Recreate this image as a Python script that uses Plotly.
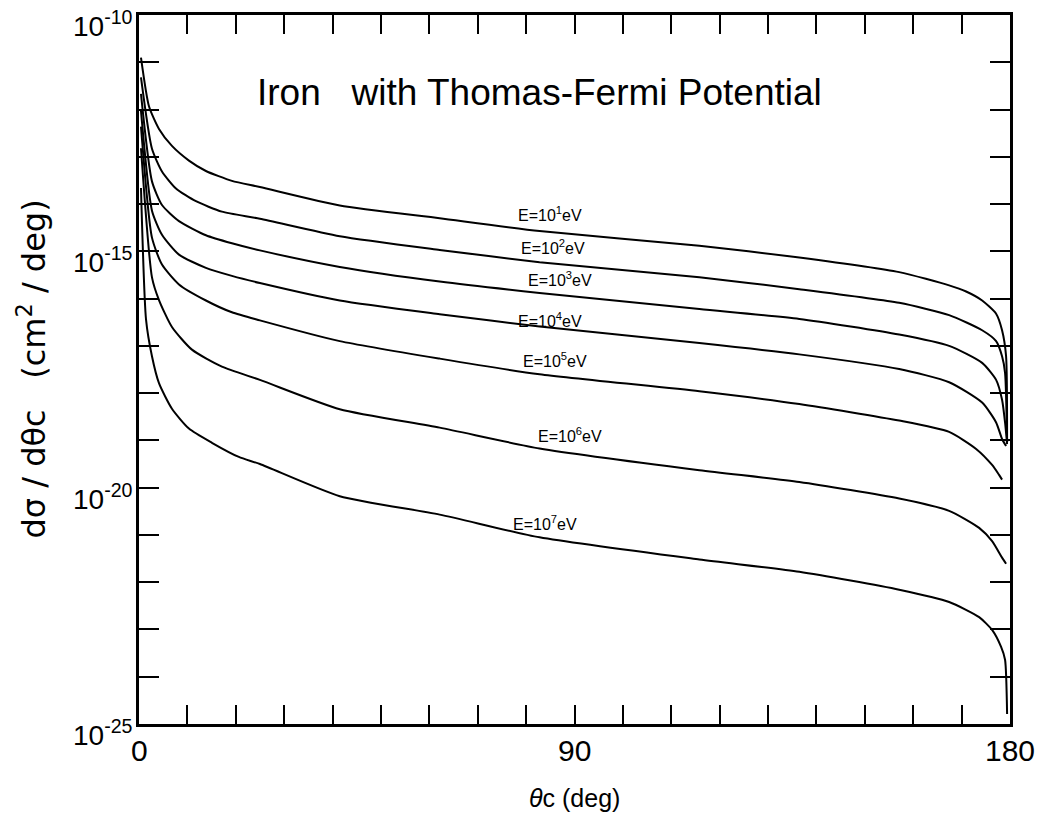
import numpy as np
import plotly.graph_objects as go

# ---- data (theta in degrees, log10 of dsigma/dtheta) ----
theta_1 = [0.41, 2.06, 4.13, 6.81, 10.32, 13.83, 19.20, 24.98, 41.49, 62.14, 82.78,
           115.81, 136.46, 157.10, 167.42, 170.93, 174.24, 177.13, 178.36, 179.19, 179.40]
exp_1 = [-10.90, -11.93, -12.41, -12.77, -13.08, -13.30, -13.51, -13.64, -14.03, -14.30, -14.57,
         -14.88, -15.13, -15.44, -15.72, -15.85, -16.04, -16.32, -16.67, -17.22, -19.04]

theta_2 = [0.41, 2.68, 4.75, 7.64, 11.77, 17.13, 24.98, 41.49, 62.14, 82.78, 115.81,
           136.46, 157.10, 167.42, 174.24, 177.13, 178.36, 178.98, 179.40]
exp_2 = [-11.32, -12.83, -13.31, -13.67, -13.94, -14.16, -14.31, -14.68, -14.97, -15.23, -15.55,
         -15.80, -16.09, -16.35, -16.67, -16.90, -17.22, -17.57, -19.04]

theta_3 = [0.41, 2.68, 4.75, 8.26, 13.83, 19.20, 24.98, 41.49, 62.14, 82.78, 115.81,
           136.46, 157.10, 167.42, 174.24, 177.13, 178.36, 178.98, 179.40]
exp_3 = [-11.67, -13.52, -14.02, -14.36, -14.66, -14.83, -14.98, -15.33, -15.64, -15.88, -16.22,
         -16.43, -16.76, -17.00, -17.36, -17.72, -18.14, -18.62, -19.08]

theta_4 = [0.41, 2.68, 4.75, 8.26, 13.83, 19.20, 24.98, 41.49, 62.14, 82.78, 115.81,
           136.46, 157.10, 167.42, 174.24, 177.13, 178.36, 179.19]
exp_4 = [-12.03, -14.14, -14.65, -15.07, -15.35, -15.52, -15.67, -16.04, -16.33, -16.59, -16.94,
         -17.18, -17.49, -17.77, -18.20, -18.62, -18.97, -19.12]

theta_5 = [0.41, 2.68, 4.75, 8.26, 13.83, 19.20, 24.98, 41.49, 62.14, 82.78, 115.81,
           136.46, 157.10, 167.42, 173.00, 176.30, 177.74, 178.36]
exp_5 = [-12.36, -14.71, -15.28, -15.70, -16.04, -16.29, -16.46, -16.90, -17.27, -17.60, -17.96,
         -18.23, -18.58, -18.82, -19.18, -19.52, -19.73, -19.83]

theta_6 = [0.41, 2.68, 4.13, 6.81, 10.94, 17.13, 24.98, 41.49, 62.14, 82.78, 115.81,
           136.46, 157.10, 167.42, 173.62, 176.30, 178.36, 179.19]
exp_6 = [-12.82, -15.55, -16.03, -16.60, -17.08, -17.44, -17.72, -18.34, -18.73, -19.17, -19.63,
         -19.88, -20.23, -20.49, -20.85, -21.13, -21.48, -21.61]

theta_7 = [0.41, 1.45, 2.68, 4.13, 6.81, 10.32, 15.07, 20.64, 24.98, 41.49, 62.14, 82.78,
           115.81, 136.46, 157.10, 167.42, 173.62, 176.30, 178.16, 178.98, 179.40]
exp_7 = [-13.66, -16.44, -17.22, -17.79, -18.33, -18.75, -19.05, -19.35, -19.50, -20.18, -20.57, -21.05,
         -21.52, -21.78, -22.16, -22.42, -22.74, -23.01, -23.37, -23.64, -24.79]

curve_labels = ["E=10<sup>1</sup>eV", "E=10<sup>2</sup>eV", "E=10<sup>3</sup>eV", "E=10<sup>4</sup>eV",
                "E=10<sup>5</sup>eV", "E=10<sup>6</sup>eV", "E=10<sup>7</sup>eV"]
label_theta = [85.0, 85.5, 87.0, 85.0, 86.0, 89.0, 84.0]
label_exp = [-14.20, -14.90, -15.58, -16.45, -17.30, -18.88, -20.75]

x_tick_vals = list(range(0, 181, 10))
x_tick_labels = ["0", "90", "180"]
y_tick_exps = list(range(-25, -9))
y_label_exps = [-10, -15, -20, -25]

title_text = "Iron   with Thomas-Fermi Potential"

FONT = "Liberation Sans"

fig = go.Figure()
for th, ex in [(theta_1, exp_1), (theta_2, exp_2), (theta_3, exp_3), (theta_4, exp_4),
               (theta_5, exp_5), (theta_6, exp_6), (theta_7, exp_7)]:
    fig.add_trace(go.Scatter(x=th, y=10.0 ** np.array(ex), mode="lines",
                             line=dict(color="black", width=2, shape="spline", smoothing=0.6),
                             showlegend=False, hoverinfo="skip"))

annotations = []
for txt, th, ex in zip(curve_labels, label_theta, label_exp):
    annotations.append(dict(x=th, y=ex, xref="x", yref="y", text=txt, showarrow=False,
                            font=dict(family=FONT, size=16, color="black")))

# y tick labels
for e in y_label_exps:
    annotations.append(dict(x=0, y=e, xref="paper", yref="y",
                            text="10<sup>%d</sup>" % e, showarrow=False,
                            xanchor="right", yanchor="middle", xshift=-4, yshift=-9,
                            font=dict(family=FONT, size=28, color="black")))
# x tick labels
for lab in x_tick_labels:
    annotations.append(dict(x=float(lab), y=0, xref="x", yref="paper", text=lab,
                            showarrow=False, xanchor="center", yanchor="top", yshift=-8,
                            font=dict(family=FONT, size=30, color="black")))

annotations.append(dict(x=0.5, y=0.0, xref="paper", yref="paper", text="<i>θ</i>c (deg)",
                        showarrow=False, xanchor="center", yanchor="top", yshift=-58,
                        font=dict(family=FONT, size=25, color="black")))
annotations.append(dict(x=0.0, y=0.5, xref="paper", yref="paper",
                        text="dσ / dθc   (cm<sup>2</sup> / deg)", textangle=-90,
                        showarrow=False, xanchor="center", yanchor="middle", xshift=-108,
                        font=dict(family="DejaVu Sans", size=32, color="black")))
annotations.append(dict(x=0.133, y=0.890, xref="paper", yref="paper", text=title_text,
                        showarrow=False, xanchor="left", yanchor="middle",
                        font=dict(family=FONT, size=37, color="black")))

fig.update_layout(
    width=1038, height=829,
    margin=dict(l=139, r=28, t=12, b=105),
    paper_bgcolor="white", plot_bgcolor="white",
    annotations=annotations,
    xaxis=dict(range=[0, 180], tickvals=x_tick_vals, ticktext=[""] * len(x_tick_vals),
               ticks="inside", ticklen=19, tickwidth=2, tickcolor="black",
               showline=True, linecolor="black", linewidth=2.5, mirror="ticks",
               showgrid=False, zeroline=False),
    yaxis=dict(type="log", range=[-25, -10], tickvals=[10.0 ** e for e in y_tick_exps],
               ticktext=[""] * len(y_tick_exps),
               ticks="inside", ticklen=20, tickwidth=2, tickcolor="black",
               showline=True, linecolor="black", linewidth=2.5, mirror="ticks",
               showgrid=False, zeroline=False),
)

fig.write_html("out.html")
